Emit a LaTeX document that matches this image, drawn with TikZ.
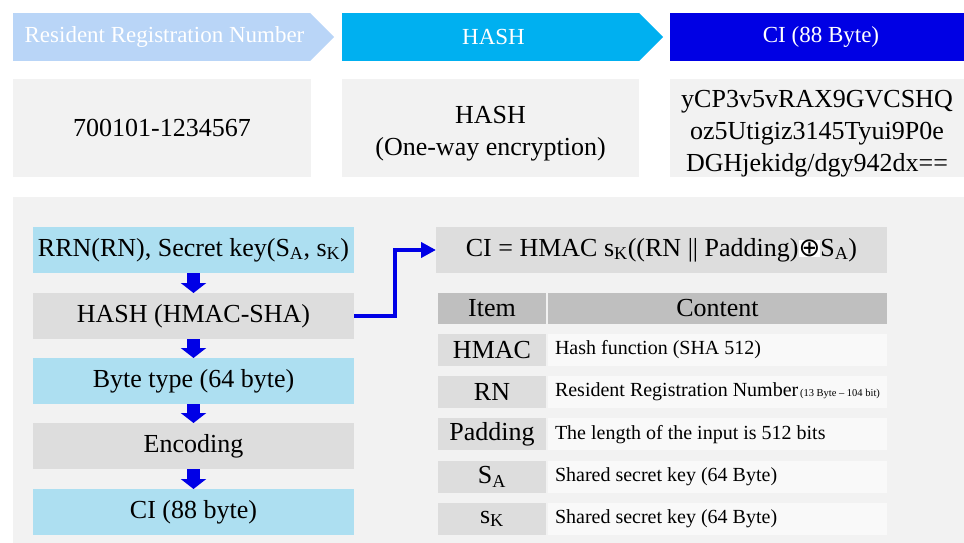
\documentclass[tikz,border=0pt]{standalone}
\usepackage{fontspec}
\setmainfont{Liberation Serif}
\newfontfamily\symfont{DejaVu Sans}
\usetikzlibrary{calc,arrows.meta}

\definecolor{rrnblue}{RGB}{185,213,247}
\definecolor{hashblue}{RGB}{0,176,240}
\definecolor{ciblue}{RGB}{0,0,228}
\definecolor{panelgrey}{RGB}{242,242,242}
\definecolor{boxgrey}{RGB}{221,221,221}
\definecolor{headgrey}{RGB}{191,191,191}
\definecolor{rowwhite}{RGB}{249,249,249}
\definecolor{stepblue}{RGB}{173,223,241}
\definecolor{flowblue}{RGB}{0,0,230}

\newcommand\bigtxt{\fontsize{26}{32}\selectfont}
\newcommand\hdtxt{\fontsize{23}{27}\selectfont}
\newcommand\celltxt{\fontsize{20}{24}\selectfont}
\newcommand\tinytxt{\fontsize{10.5}{12}\selectfont}

\tikzset{
  box/.style={anchor=north west,inner sep=0pt,outer sep=0pt,font=\bigtxt,align=center},
  header/.style={box,font=\hdtxt,text=white,minimum height=48pt},
  valbox/.style={box,fill=panelgrey,minimum height=98pt},
  flowbox/.style={box,minimum width=321pt,minimum height=46pt},
  downarrow/.style={draw=flowblue,line width=13pt,-{Triangle[width=25pt,length=10pt]}},
}

\begin{document}
\begin{tikzpicture}[x=1pt,y=-1pt]
  \useasboundingbox (0,0) rectangle (964,543);

  % top: header chevrons
  \node[header,fill=rrnblue,minimum width=297pt]  (rrnhd)  at (13,13)  {\hspace{6pt}Resident Registration Number};
  \node[header,fill=hashblue,minimum width=297pt] (hashhd) at (342,13) {\hspace{6pt}HASH};
  \node[header,fill=ciblue,minimum width=294pt]   (cihd)   at (670,13) {\hspace{8pt}CI (88 Byte)};
  \fill[rrnblue]  (rrnhd.north east)  -- ($(rrnhd.east)+(24,0)$)  -- (rrnhd.south east)  -- cycle;
  \fill[hashblue] (hashhd.north east) -- ($(hashhd.east)+(24,0)$) -- (hashhd.south east) -- cycle;

  % top: values
  \node[valbox,minimum width=298pt] (rrnval)  at (13,79)  {700101-1234567};
  \node[valbox,minimum width=297pt] (hashval) at (342,79) {\rule{0pt}{28pt}HASH\\(One-way encryption)};
  \node[valbox,minimum width=294pt] (cival)   at (670,79) {\rule{0pt}{28pt}yCP3v5vRAX9GVCSHQ\\oz5Utigiz3145Tyui9P0e\\DGHjekidg/dgy942dx==};

  % bottom panel
  \fill[panelgrey] (13,197) rectangle (964,543);

  % flow of steps
  \node[flowbox,fill=stepblue] (s1) at (33,227) {RRN(RN), Secret key(S\textsubscript{A}, s\textsubscript{K})};
  \node[flowbox,fill=boxgrey]  (s2) at (33,293) {HASH (HMAC-SHA)};
  \node[flowbox,fill=stepblue] (s3) at (33,358) {Byte type (64 byte)};
  \node[flowbox,fill=boxgrey]  (s4) at (33,423) {Encoding};
  \node[flowbox,fill=stepblue] (s5) at (33,489) {CI (88 byte)};
  \foreach \a/\b in {s1/s2,s2/s3,s3/s4,s4/s5}
    \draw[downarrow] (\a.south) -- (\b.north);

  % formula
  \setlength\fboxsep{0pt}
  \node[box,fill=boxgrey,minimum width=451pt,minimum height=46pt] (formula) at (436,227)
    {CI = HMAC s\textsubscript{K}((RN || Padding)\colorbox{white}{\symfont ⊕}S\textsubscript{A})};
  \draw[flowblue,line width=4.5pt,-{Triangle[width=15pt,length=15pt]}]
    (s2.east) -| ($(s2.east)!.5!(formula.west)$) |- (formula.west);

  % table of terms
  \node[box,fill=headgrey,minimum width=108pt,minimum height=31pt] (itemhd) at (438,293) {Item};
  \node[box,fill=headgrey,minimum width=339pt,minimum height=31pt] (conthd) at (548,293) {Content};
  \foreach \itm/\txt [count=\i from 0] in {
      HMAC/Hash function (SHA 512),
      RN/{Resident Registration Number\mbox{\tinytxt\,(13 Byte -- 104 bit)}},
      Padding/The length of the input is 512 bits,
      S\textsubscript{A}/Shared secret key (64 Byte),
      s\textsubscript{K}/Shared secret key (64 Byte)} {
    \node[box,fill=boxgrey,minimum width=108pt,minimum height=32pt] (item\i) at (438,{334+42.2*\i}) {\itm};
    \node[box,font=\celltxt,fill=rowwhite,text width=325pt,inner xsep=7pt,align=left,minimum height=32pt]
      (cont\i) at (548,{334+42.2*\i}) {\spaceskip=0pt\xspaceskip=0pt\txt};
  }
\end{tikzpicture}
\end{document}
